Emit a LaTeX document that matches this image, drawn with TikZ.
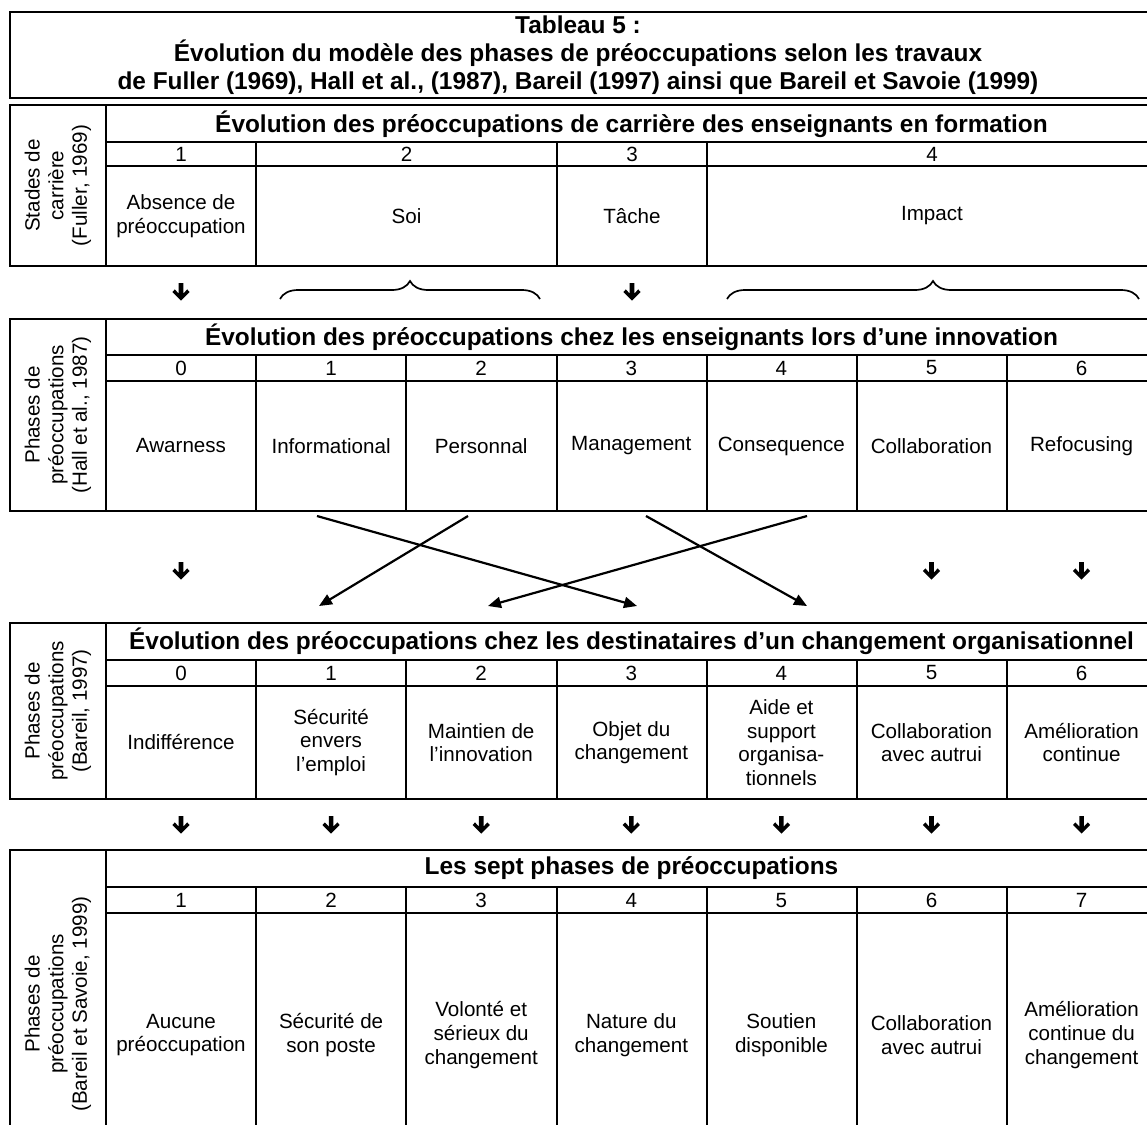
\documentclass[tikz,border=0pt]{standalone}
\usepackage{fontspec}
\setmainfont{Liberation Sans}
\usetikzlibrary{arrows.meta,decorations.pathreplacing}
\begin{document}
\begin{tikzpicture}[x=1pt,y=-1pt,
  rule/.style={line width=2.3pt},
  body/.style={font=\fontsize{20.6}{23.6}\selectfont,align=center,inner sep=0pt},
  head/.style={font=\fontsize{24.4}{28}\selectfont\bfseries,align=center,inner sep=0pt},
  side/.style={body,rotate=90},
  link/.style={line width=2.2pt,-{Triangle[length=13pt,width=11pt]}},
  brc/.style={line width=1.7pt,decorate,decoration={brace,amplitude=18pt}},
  darr/.pic={\fill (-2.3,-9) -- (2.3,-9) -- (2.3,1.6) -- (6.2,-2.6) -- (8.6,0) -- (0,8.6) -- (-8.6,0) -- (-6.2,-2.6) -- (-2.3,1.6) -- cycle;}
]
\useasboundingbox (0,0) rectangle (1147,1124);
\clip (0,0) rectangle (1147,1124);

% ---------- title ----------
\draw[rule] (10,12) rectangle (1170,98);
\node[head] (title) at (578,55) {Tableau 5 :\\Évolution du modèle des phases de préoccupations selon les travaux\\de Fuller (1969), Hall et al., (1987), Bareil (1997) ainsi que Bareil et Savoie (1999)};

% ---------- table 1 ----------
\draw[rule] (10,105) rectangle (1170,266);
\draw[rule] (106,105) -- (106,266);
\draw[rule] (106,142) -- (1170,142) (106,166) -- (1170,166);
\draw[rule] (256,142) -- (256,266) (557,142) -- (557,266) (707,142) -- (707,266);
\node[side] (s1) at (58,185.5) {Stades de\\carrière\\(Fuller, 1969)};
\node[head] (h1) at (631.5,124) {Évolution des préoccupations de carrière des enseignants en formation};
\node[body] (n11) at (181,154) {1};
\node[body] (n12) at (406.5,154) {2};
\node[body] (n13) at (632,154) {3};
\node[body] (n14) at (932,154) {4};
\node[body] (c11) at (181,216) {Absence de\\préoccupation};
\node[body] (c12) at (406.5,216) {Soi};
\node[body] (c13) at (632,216) {Tâche};
\node[body] (c14) at (932,216) {Impact};

% ---------- between 1 and 2 ----------
\pic at (181,292) {darr};
\pic at (632,292) {darr};
\coordinate (b1l) at (280,299); \coordinate (b1r) at (540,299);
\coordinate (b2l) at (727,299); \coordinate (b2r) at (1139,299);
\draw[brc] (b1l) -- (b1r);
\draw[brc] (b2l) -- (b2r);

% ---------- table 2 ----------
\draw[rule] (10,319) rectangle (1170,511);
\draw[rule] (106,319) -- (106,511);
\draw[rule] (106,355) -- (1170,355) (106,381) -- (1170,381);
\foreach \x in {256,406,557,707,857,1007} \draw[rule] (\x,355) -- (\x,511);
\node[side] (s2) at (58,415) {Phases de\\préoccupations\\(Hall et al., 1987)};
\node[head] (h2) at (631.5,337) {Évolution des préoccupations chez les enseignants lors d’une innovation};
\foreach \t [count=\i from 0] in {Awarness,Informational,Personnal,Management,Consequence,Collaboration,Refocusing}{
  \node[body] (n2\i) at (181+150.1*\i,368) {\i};
  \node[body] (c2\i) at (181+150.1*\i,446) {\t};
}

% ---------- crossing links ----------
\coordinate (a1) at (317,516); \coordinate (a2) at (637,606);
\coordinate (bb1) at (468,516); \coordinate (bb2) at (319,606);
\coordinate (cc1) at (807,516); \coordinate (cc2) at (488,606);
\coordinate (d1) at (646,516); \coordinate (d2) at (807,606);
\draw[link] (a1) -- (a2);
\draw[link] (bb1) -- (bb2);
\draw[link] (cc1) -- (cc2);
\draw[link] (d1) -- (d2);
\pic at (181,571) {darr};
\pic at (931.5,571) {darr};
\pic at (1081.5,571) {darr};

% ---------- table 3 ----------
\draw[rule] (10,623) rectangle (1170,799);
\draw[rule] (106,623) -- (106,799);
\draw[rule] (106,660) -- (1170,660) (106,686) -- (1170,686);
\foreach \x in {256,406,557,707,857,1007} \draw[rule] (\x,660) -- (\x,799);
\node[side] (s3) at (58,711) {Phases de\\préoccupations\\(Bareil, 1997)};
\node[head] (h3) at (631.5,641.5) {Évolution des préoccupations chez les destinataires d’un changement organisationnel};
\foreach \i in {0,...,6} \node[body] (n3\i) at (181+150.1*\i,673) {\i};
\node[body] (c30) at (181,742.5) {Indifférence};
\node[body] (c31) at (331.1,742.5) {Sécurité\\envers\\l’emploi};
\node[body] (c32) at (481.2,742.5) {Maintien de\\l’innovation};
\node[body] (c33) at (631.3,742.5) {Objet du\\changement};
\node[body] (c34) at (781.4,742.5) {Aide et\\support\\organisa-\\tionnels};
\node[body] (c35) at (931.5,742.5) {Collaboration\\avec autrui};
\node[body] (c36) at (1081.6,742.5) {Amélioration\\continue};

\foreach \i in {0,...,6} \pic at (181+150.1*\i,825) {darr};

% ---------- table 4 ----------
\draw[rule] (10,850) rectangle (1170,1160);
\draw[rule] (106,850) -- (106,1160);
\draw[rule] (106,887) -- (1170,887) (106,913) -- (1170,913);
\foreach \x in {256,406,557,707,857,1007} \draw[rule] (\x,887) -- (\x,1160);
\node[side] (s4) at (58,1004) {Phases de\\préoccupations\\(Bareil et Savoie, 1999)};
\node[head] (h4) at (631.5,868.5) {Les sept phases de préoccupations};
\foreach \i in {1,...,7} \node[body] (n4\i) at (181+150.1*\i-150.1,900) {\i};
\node[body] (c41) at (181,1035) {Aucune\\préoccupation};
\node[body] (c42) at (331.1,1035) {Sécurité de\\son poste};
\node[body] (c43) at (481.2,1035) {Volonté et\\sérieux du\\changement};
\node[body] (c44) at (631.3,1035) {Nature du\\changement};
\node[body] (c45) at (781.4,1035) {Soutien\\disponible};
\node[body] (c46) at (931.5,1035) {Collaboration\\avec autrui};
\node[body] (c47) at (1081.6,1035) {Amélioration\\continue du\\changement};
\end{tikzpicture}
\end{document}
